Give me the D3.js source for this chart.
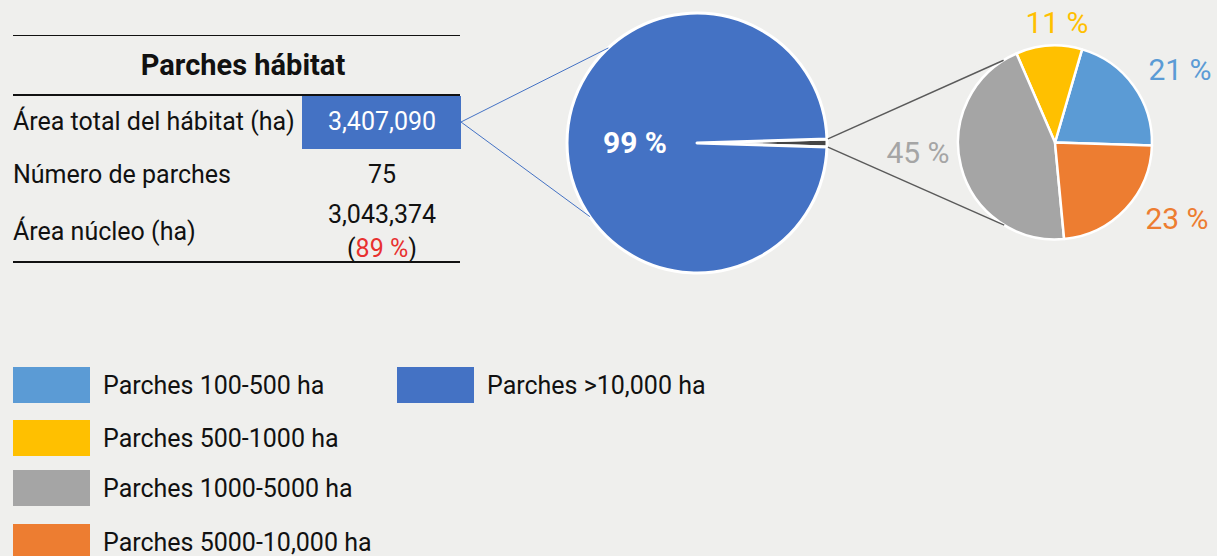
<!DOCTYPE html>
<html><head><meta charset="utf-8">
<script src="https://cdn.jsdelivr.net/npm/d3@7"></script>
<style>
html,body{margin:0;padding:0;background:#efefed;}
svg{display:block;font-family:Roboto,"Noto Sans",sans-serif;}
</style></head>
<body><svg id="c" width="1217" height="556"></svg>
<script>
// ---- data ----
const tableTitle = "Parches hábitat";
const tableLabels = ["Área total del hábitat (ha)", "Número de parches", "Área núcleo (ha)"];
const tableValues = ["3,407,090", "75", "3,043,374"];
const corePercent = "89 %";
const mainCategories = ["Otros parches", "Parches >10,000 ha"];
const mainValues = [1, 99];
const mainColors = ["#454545", "#4472C4"];
const subCategories = ["Parches 100-500 ha", "Parches 500-1000 ha", "Parches 1000-5000 ha", "Parches 5000-10,000 ha"];
const subValues = [21, 11, 45, 23];
const subColors = ["#5B9BD5", "#FFC000", "#A5A5A5", "#ED7D31"];
const legendLabels = ["Parches 100-500 ha", "Parches 500-1000 ha", "Parches 1000-5000 ha", "Parches 5000-10,000 ha", "Parches >10,000 ha"];
const legendColors = ["#5B9BD5", "#FFC000", "#A5A5A5", "#ED7D31", "#4472C4"];

// ---- layout ----
const svg = d3.select("#c");
const deg = Math.PI / 180;
const fs = 25;

// table
const T = {x0: 13, x1: 460, boxX: 302};
svg.append("line").attr("x1", T.x0).attr("x2", T.x1).attr("y1", 35.5).attr("y2", 35.5).attr("stroke", "#111").attr("stroke-width", 1);
svg.append("text").attr("x", 243).attr("y", 75).attr("text-anchor", "middle").attr("font-weight", "bold").attr("font-size", 29).attr("fill", "#111").text(tableTitle);
svg.append("line").attr("x1", T.x0).attr("x2", T.x1).attr("y1", 95).attr("y2", 95).attr("stroke", "#111").attr("stroke-width", 2);
svg.append("rect").attr("x", T.boxX).attr("y", 96).attr("width", 159).attr("height", 53).attr("fill", "#4472C4");
const rowBase = [130, 183, 240];
tableLabels.forEach((l, i) => {
  svg.append("text").attr("x", T.x0).attr("y", rowBase[i]).attr("font-size", fs).attr("fill", "#111").text(l);
});
const valX = 382;
svg.append("text").attr("x", valX).attr("y", 130).attr("text-anchor", "middle").attr("font-size", fs).attr("fill", "#fff").text(tableValues[0]);
svg.append("text").attr("x", valX).attr("y", 183).attr("text-anchor", "middle").attr("font-size", fs).attr("fill", "#111").text(tableValues[1]);
svg.append("text").attr("x", valX).attr("y", 223).attr("text-anchor", "middle").attr("font-size", fs).attr("fill", "#111").text(tableValues[2]);
const pct = svg.append("text").attr("x", valX).attr("y", 257).attr("text-anchor", "middle").attr("font-size", fs).attr("fill", "#111");
pct.append("tspan").text("(");
pct.append("tspan").attr("fill", "#E8312F").text(corePercent);
pct.append("tspan").text(")");
svg.append("line").attr("x1", T.x0).attr("x2", T.x1).attr("y1", 262).attr("y2", 262).attr("stroke", "#111").attr("stroke-width", 2);

// main pie
const M = {cx: 697, cy: 143, r: 130};
const otherShare = mainValues[0] / d3.sum(mainValues) * 360;
const mainPie = d3.pie().sort(null).value(d => d).startAngle((90 - otherShare / 2) * deg).endAngle((450 - otherShare / 2) * deg);
const mainArc = d3.arc().innerRadius(0).outerRadius(M.r);
const mainArcs = mainPie(mainValues);
const gM = svg.append("g").attr("transform", `translate(${M.cx},${M.cy})`);
gM.selectAll("path").data(mainArcs).join("path").attr("d", mainArc).attr("fill", (d, i) => mainColors[i]).attr("stroke", "#fff").attr("stroke-width", 3).attr("stroke-linejoin", "round");
gM.append("text").attr("x", -62).attr("y", 10).attr("text-anchor", "middle").attr("font-weight", "bold").attr("font-size", 30).attr("fill", "#fff").text(Math.round(mainValues[1] / d3.sum(mainValues) * 100) + " %");

// sub pie
const S = {cx: 1055, cy: 142.5, r: 97};
const subPie = d3.pie().sort(null).value(d => d).startAngle(91.8 * deg).endAngle((91.8 - 360) * deg);
const subArc = d3.arc().innerRadius(0).outerRadius(S.r);
const subArcs = subPie(subValues);
const gS = svg.append("g").attr("transform", `translate(${S.cx},${S.cy})`);
gS.selectAll("path").data(subArcs).join("path").attr("d", subArc).attr("fill", (d, i) => subColors[i]).attr("stroke", "#fff").attr("stroke-width", 2.5).attr("stroke-linejoin", "round");
const subLabelPos = [[125, -63], [2, -110], [-137, 20], [122, 86]];
subArcs.forEach((a, i) => {
  gS.append("text").attr("x", subLabelPos[i][0]).attr("y", subLabelPos[i][1]).attr("text-anchor", "middle").attr("font-size", 30).attr("fill", subColors[i]).text(subValues[i] + " %");
});

// connectors
const pt = (c, ang, r) => [c.cx + r * Math.sin(ang * deg), c.cy - r * Math.cos(ang * deg)];
const boxPt = [461, 122];
[317, 235.5].forEach(a => {
  const p = pt(M, a, M.r);
  svg.append("line").attr("x1", boxPt[0]).attr("y1", boxPt[1]).attr("x2", p[0]).attr("y2", p[1]).attr("stroke", "#4472C4").attr("stroke-width", 1);
});
const wA = mainArcs[0];
[[wA.startAngle / deg, 328], [wA.endAngle / deg, 211.6]].forEach(([a0, a1]) => {
  const p0 = pt(M, a0, M.r + 1), p1 = pt(S, a1, S.r);
  svg.append("line").attr("x1", p0[0]).attr("y1", p0[1]).attr("x2", p1[0]).attr("y2", p1[1]).attr("stroke", "#5a5a5a").attr("stroke-width", 1.5);
});

// legend
const legendPos = [[13, 367], [13, 420], [13, 470], [13, 524], [397, 367]];
legendLabels.forEach((l, i) => {
  const [x, y] = legendPos[i];
  svg.append("rect").attr("x", x).attr("y", y).attr("width", 77).attr("height", 36).attr("fill", legendColors[i]);
  svg.append("text").attr("x", x + 90).attr("y", y + 27).attr("font-size", fs).attr("fill", "#111").text(l);
});
</script></body></html>
